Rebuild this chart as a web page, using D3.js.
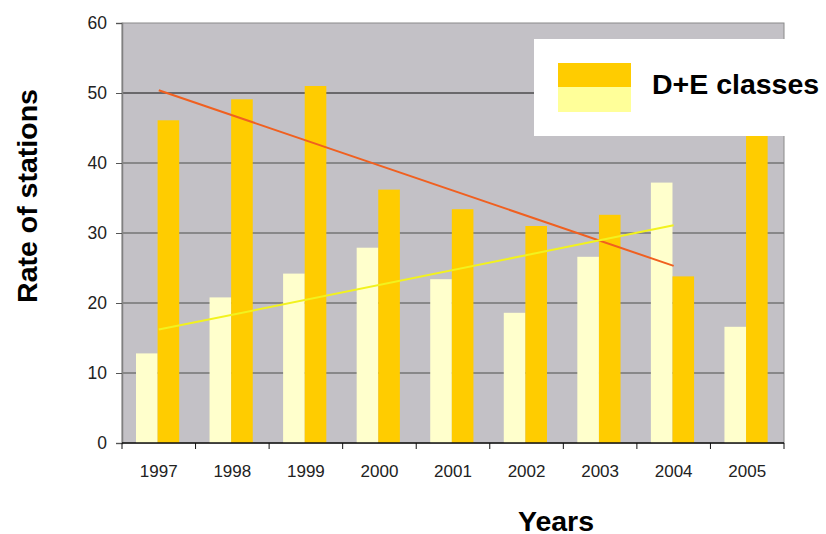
<!DOCTYPE html>
<html>
<head>
<meta charset="utf-8">
<script src="https://cdn.jsdelivr.net/npm/d3@7/dist/d3.min.js"></script>
<style>
  body { margin: 0; background: #fff; }
  text { font-family: "Liberation Sans", Arial, sans-serif; }
</style>
</head>
<body>
<div id="chart"></div>
<script>
// data
var years = ["1997", "1998", "1999", "2000", "2001", "2002", "2003", "2004", "2005"];
var lightValues = [12.8, 20.8, 24.2, 27.9, 23.4, 18.6, 26.6, 37.2, 16.6];
var darkValues = [46.1, 49.1, 51.0, 36.2, 33.4, 31.0, 32.6, 23.8, 52.0];
var yTicks = [0, 10, 20, 30, 40, 50, 60];
// trend lines, start (1997) and end (2004)
var trendYears = ["1997", "2004"];
var trendDark = [50.4, 25.3];
var trendLight = [16.2, 31.1];

var width = 826, height = 534;
var margin = {left: 122, right: 42, top: 23, bottom: 91};
var plotW = width - margin.left - margin.right;
var plotH = height - margin.top - margin.bottom;

var svg = d3.select("#chart").append("svg")
    .attr("width", width)
    .attr("height", height);

var x = d3.scaleBand().domain(years).range([0, plotW]);
var xInner = d3.scaleBand().domain(["light", "dark"]).range([14, 14 + 43.2]);
var y = d3.scaleLinear().domain([0, 60]).range([plotH, 0]);

var g = svg.append("g")
    .attr("transform", "translate(" + margin.left + "," + margin.top + ")");

// plot background
g.append("rect")
    .attr("width", plotW)
    .attr("height", plotH)
    .attr("fill", "#c3c1c6")
    .attr("stroke", "#8a8a8a")
    .attr("stroke-width", 1);

// gridlines
g.append("g").selectAll("line")
    .data(yTicks.filter(function(d) { return d > 0 && d < 60; }))
    .enter().append("line")
    .attr("x1", 0).attr("x2", plotW)
    .attr("y1", function(d) { return y(d); })
    .attr("y2", function(d) { return y(d); })
    .attr("stroke", function(d) { return d === 50 ? "#111" : "#757575"; })
    .attr("stroke-width", function(d) { return d === 50 ? 1 : 1.6; });

// bars
var groups = g.append("g").selectAll("g")
    .data(years)
    .enter().append("g")
    .attr("transform", function(d) { return "translate(" + x(d) + ",0)"; });

groups.append("rect")
    .attr("x", xInner("light"))
    .attr("width", xInner.bandwidth())
    .attr("y", function(d, i) { return y(lightValues[i]); })
    .attr("height", function(d, i) { return plotH - y(lightValues[i]); })
    .attr("fill", "#ffffcc");

groups.append("rect")
    .attr("x", xInner("dark"))
    .attr("width", xInner.bandwidth())
    .attr("y", function(d, i) { return y(darkValues[i]); })
    .attr("height", function(d, i) { return plotH - y(darkValues[i]); })
    .attr("fill", "#ffcc00");

// trend lines
var line = d3.line()
    .x(function(d) { return x(d[0]) + x.bandwidth() / 2; })
    .y(function(d) { return y(d[1]); });

g.append("path")
    .datum(d3.zip(trendYears, trendDark))
    .attr("d", line)
    .attr("fill", "none")
    .attr("stroke", "#f06020")
    .attr("stroke-width", 2);

g.append("path")
    .datum(d3.zip(trendYears, trendLight))
    .attr("d", line)
    .attr("fill", "none")
    .attr("stroke", "#f2f21e")
    .attr("stroke-width", 2);

// y axis
var yAxis = g.append("g")
    .call(d3.axisLeft(y).tickValues(yTicks).tickSize(6).tickPadding(9));
yAxis.select(".domain").attr("stroke", "#808080").attr("stroke-width", 1.5);
yAxis.selectAll(".tick line").attr("stroke", "#555");
yAxis.selectAll(".tick text")
    .style("font-size", "17.5px")
    .style("font-family", "Liberation Sans, Arial, sans-serif")
    .attr("fill", "#222");

// x axis: ticks at category boundaries
var xAxis = g.append("g")
    .attr("transform", "translate(0," + plotH + ")");
xAxis.append("line")
    .attr("x1", 0).attr("x2", plotW)
    .attr("stroke", "#111").attr("stroke-width", 1.5);
xAxis.selectAll(".xt")
    .data(years.concat(["end"]))
    .enter().append("line")
    .attr("x1", function(d, i) { return i * x.step(); })
    .attr("x2", function(d, i) { return i * x.step(); })
    .attr("y1", 0).attr("y2", 6)
    .attr("stroke", "#111");
xAxis.selectAll(".xl")
    .data(years)
    .enter().append("text")
    .attr("x", function(d) { return x(d) + x.bandwidth() / 2; })
    .attr("y", 34)
    .attr("text-anchor", "middle")
    .style("font-size", "17px")
    .attr("fill", "#222")
    .text(function(d) { return d; });

// axis titles
svg.append("text")
    .attr("x", 556).attr("y", 531)
    .attr("text-anchor", "middle")
    .style("font-size", "28.5px")
    .attr("font-weight", "bold")
    .text("Years");

svg.append("text")
    .attr("transform", "translate(37,196) rotate(-90)")
    .attr("text-anchor", "middle")
    .style("font-size", "28.5px")
    .attr("font-weight", "bold")
    .text("Rate of stations");

// legend
var legend = svg.append("g");
legend.append("rect")
    .attr("x", 534).attr("y", 39)
    .attr("width", 292).attr("height", 97)
    .attr("fill", "#fff");
legend.append("rect")
    .attr("x", 558).attr("y", 63)
    .attr("width", 73).attr("height", 24)
    .attr("fill", "#ffcc00");
legend.append("rect")
    .attr("x", 558).attr("y", 87)
    .attr("width", 73).attr("height", 25)
    .attr("fill", "#ffff99");
legend.append("text")
    .attr("x", 652).attr("y", 94)
    .style("font-size", "28.5px")
    .attr("font-weight", "bold")
    .text("D+E classes");
</script>
</body>
</html>
